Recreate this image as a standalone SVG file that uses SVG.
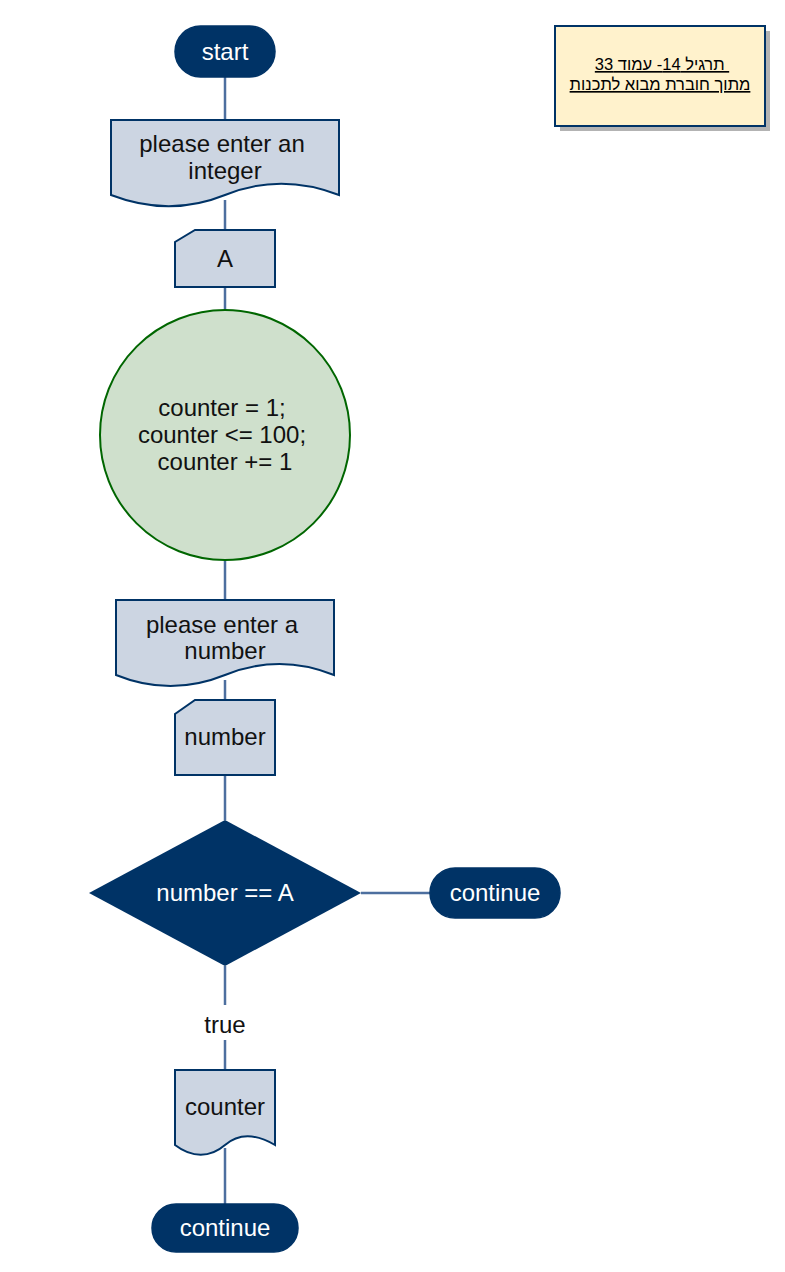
<svg xmlns="http://www.w3.org/2000/svg" width="785" height="1272" viewBox="0 0 785 1272">
<style>
text{font-family:"Liberation Sans",Arial,"DejaVu Sans",sans-serif;font-size:24px;text-anchor:middle}
.term{fill:#003366;stroke:#003366;stroke-width:1.5}
.io{fill:#ccd5e2;stroke:#003366;stroke-width:2}
.wt{fill:#ffffff}
.dk{fill:#111111}
.edge{fill:none;stroke:#4d6f9f;stroke-width:2.5}
.heb{font-size:16.5px;fill:#000000}
</style>
<rect width="785" height="1272" fill="#ffffff"/>
<g id="connectors">
<path class="edge" d="M225,77V120"/>
<path class="edge" d="M225,200V230"/>
<path class="edge" d="M225,287V310"/>
<path class="edge" d="M225,560V600"/>
<path class="edge" d="M225,680V700"/>
<path class="edge" d="M225,775V820"/>
<path class="edge" d="M361,893H430"/>
<path class="edge" d="M225,966V1005"/>
<path class="edge" d="M225,1040V1070"/>
<path class="edge" d="M225,1148V1204"/>
<text class="dk" x="225" y="1033">true</text>
</g>
<g id="note">
<rect x="560" y="31" width="210" height="100" fill="#b3b3b3"/>
<rect x="555" y="26" width="210" height="100" fill="#fff2cc" stroke="#003366" stroke-width="2"/>
<text class="heb" x="662" y="70" direction="rtl" text-decoration="underline">&#160;תרגיל 14- עמוד 33</text>
<text class="heb" x="660" y="90" direction="rtl" text-decoration="underline">מתוך חוברת מבוא לתכנות</text>
</g>
<g id="start">
<rect class="term" x="175" y="26" width="100" height="51" rx="25.5"/>
<text class="wt" x="225" y="60">start</text>
</g>
<g id="prompt1">
<path class="io" d="M111,120H339V195C300,180 262,180 225,195C188,210 150,210 111,195Z"/>
<text class="dk" x="222" y="152">please enter an</text>
<text class="dk" x="225" y="179">integer</text>
</g>
<g id="inputA">
<path class="io" d="M195,230H275V287H175V242Z"/>
<text class="dk" x="225" y="267">A</text>
</g>
<g id="loop">
<circle cx="225" cy="435" r="125" fill="#cfe0cc" stroke="#006600" stroke-width="2"/>
<text class="dk" x="222" y="416">counter = 1;</text>
<text class="dk" x="222" y="443">counter &lt;= 100;</text>
<text class="dk" x="225" y="470">counter += 1</text>
</g>
<g id="prompt2">
<path class="io" d="M116,600H334V675C297,660 262,660 225,675C188,690 153,690 116,675Z"/>
<text class="dk" x="222" y="633">please enter a</text>
<text class="dk" x="225" y="659">number</text>
</g>
<g id="inputNumber">
<path class="io" d="M195,700H275V775H175V714Z"/>
<text class="dk" x="225" y="745">number</text>
</g>
<g id="decision">
<polygon points="225,820 361,893 225,966 89,893" fill="#003366"/>
<text class="wt" x="225" y="901">number == A</text>
</g>
<g id="continueRight">
<rect class="term" x="430" y="868" width="130" height="50" rx="25"/>
<text class="wt" x="495" y="901">continue</text>
</g>
<g id="outputCounter">
<path class="io" d="M175,1070H275V1145C258,1135 240,1132 225,1145C210,1158 192,1158 175,1145Z"/>
<text class="dk" x="225" y="1115">counter</text>
</g>
<g id="continueBottom">
<rect class="term" x="152" y="1204" width="146" height="48" rx="24"/>
<text class="wt" x="225" y="1236">continue</text>
</g>
</svg>
